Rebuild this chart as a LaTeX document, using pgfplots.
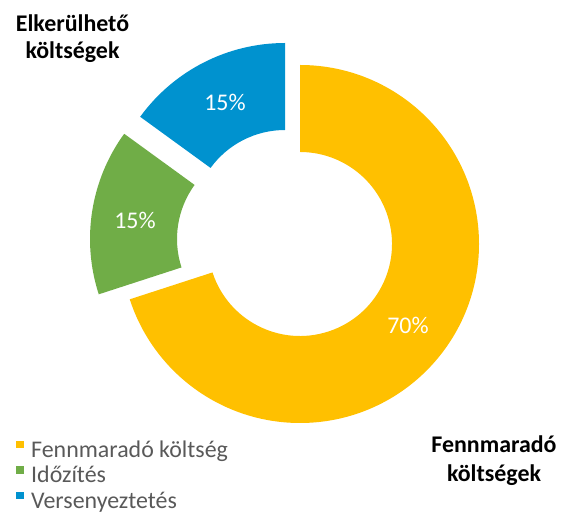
\documentclass[border=0pt]{standalone}
\usepackage{pgfplots}
\pgfplotsset{compat=1.18}
\usepackage{pgfplotstable}
\usepackage{fontspec}
\setmainfont{Carlito}

\definecolor{cyel}{HTML}{FFC000}
\definecolor{cgrn}{HTML}{70AD47}
\definecolor{cblu}{HTML}{0092CF}
\definecolor{ctxt}{HTML}{595959}

% slice share (%) and exploded centre of each slice (axis units = bp)
\pgfplotstableread{
pct cx  cy
70  300 271
15  269 276
15  285 293
}\slices

\newcommand{\rout}{179}
\newcommand{\rin}{92}
\newcommand{\fsz}{\fontsize{24}{28}\selectfont}
% \donutwedge{cx}{cy}{start angle}{end angle}{colour}
\newcommand{\donutwedge}[5]{%
  \fill[#5] (axis cs:{#1+\rout*cos(#3)},{#2+\rout*sin(#3)})
    arc[start angle=#3,end angle=#4,radius=\rout bp]
    -- (axis cs:{#1+\rin*cos(#4)},{#2+\rin*sin(#4)})
    arc[start angle=#4,end angle=#3,radius=\rin bp] -- cycle;}

\begin{document}
\begin{tikzpicture}
\pgfplotstablegetelem{0}{pct}\of\slices \let\pA\pgfplotsretval
\pgfplotstablegetelem{1}{pct}\of\slices \let\pB\pgfplotsretval
\pgfplotstablegetelem{2}{pct}\of\slices \let\pC\pgfplotsretval
\pgfmathsetmacro\aB{90-3.6*\pA}
\pgfmathsetmacro\aC{\aB-3.6*\pB}
\pgfmathsetmacro\aD{\aC-3.6*\pC}
\begin{axis}[
    width=567bp, height=515bp, scale only axis,
    xmin=0, xmax=567, ymin=0, ymax=515,
    hide axis, clip=false,
    legend cell align={left},
    legend style={
        at={(axis cs:16,76)}, anchor=north west,
        draw=none, fill=none, inner sep=0pt,
        row sep=0pt, column sep=0pt,
        font=\fsz, text=ctxt,
        nodes={inner sep=0pt, text height=18bp, text depth=7.5bp},
    },
    legend image code/.code={%
        \path[#1] (0bp,3.5bp) rectangle (8bp,11bp);
        \path (15bp,8bp);},
]
\donutwedge{300}{271}{90}{\aB}{cyel}
\donutwedge{269}{276}{\aB}{\aC}{cgrn}
\donutwedge{285}{293}{\aC}{\aD}{cblu}

\addlegendimage{fill=cyel, draw=none}
\addlegendentry{Fennmaradó költség}
\addlegendimage{fill=cgrn, draw=none}
\addlegendentry{Időzítés}
\addlegendimage{fill=cblu, draw=none}
\addlegendentry{Versenyeztetés}

\node[white, font=\fsz] at (axis cs:408,190) {\pA\%};
\node[white, font=\fsz] at (axis cs:135,294.5) {\pB\%};
\node[white, font=\fsz] at (axis cs:225,412.5) {\pC\%};

\node[anchor=base, font=\bfseries\fsz] at (axis cs:72.5,483) {Elkerülhető};
\node[anchor=base, font=\bfseries\fsz] at (axis cs:72.5,456) {költségek};
\node[anchor=base, font=\bfseries\fsz] at (axis cs:494,62) {Fennmaradó};
\node[anchor=base, font=\bfseries\fsz] at (axis cs:494,33) {költségek};
\end{axis}
\pgfresetboundingbox
\useasboundingbox (current axis.south west) rectangle (current axis.north east);
\end{tikzpicture}
\end{document}
